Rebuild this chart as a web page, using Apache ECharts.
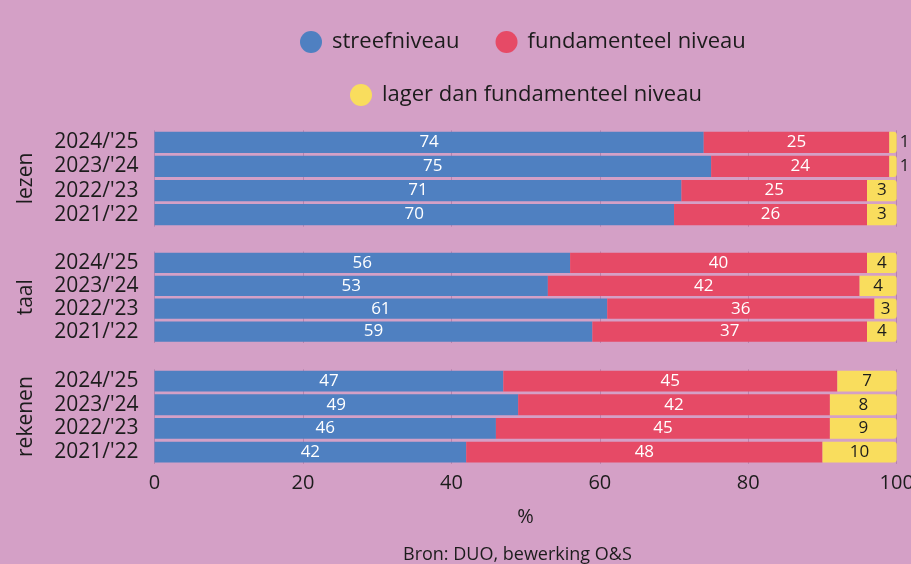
<!DOCTYPE html>
<html>
<head>
<meta charset="utf-8">
<script src="https://cdn.jsdelivr.net/npm/echarts@6/dist/echarts.min.js"></script>
<style>
  html, body { margin: 0; padding: 0; background: #d4a0c6; }
  #chart { width: 911px; height: 564px; }
</style>
</head>
<body>
<div id="chart"></div>
<script>
// jaren, van boven naar beneden
const years = ["2024/'25", "2023/'24", "2022/'23", "2021/'22"];
const subjects = ['lezen', 'taal', 'rekenen'];
const xTicks = [0, 20, 40, 60, 80, 100];

// streefniveau (%)
const streefLezen = [74, 75, 71, 70];
const streefTaal = [56, 53, 61, 59];
const streefRekenen = [47, 49, 46, 42];

// fundamenteel niveau (%)
const fundLezen = [25, 24, 25, 26];
const fundTaal = [40, 42, 36, 37];
const fundRekenen = [45, 42, 45, 48];

// lager dan fundamenteel: lengte van de balk zoals getekend
const lagerLezen = [1, 1, 4, 4];
const lagerTaal = [4, 5, 3, 4];
const lagerRekenen = [8, 9, 9, 10];

// lager dan fundamenteel: getoonde (afgeronde) labels
const lagerLabelLezen = [1, 1, 3, 3];
const lagerLabelTaal = [4, 4, 3, 4];
const lagerLabelRekenen = [7, 8, 9, 10];

const BLUE = '#4f80c1';
const RED = '#e64a66';
const YELLOW = '#f9dd5d';
const FONT = 'Open Sans';
const TEXT = '#1c1c1c';

const chart = echarts.init(document.getElementById('chart'));

const gridTops = [130.3, 251.5, 369.3];
const gridHeights = [96.4, 91.5, 94.6];

const groups = [
  { streef: streefLezen, fund: fundLezen, lager: lagerLezen, lagerLabel: lagerLabelLezen },
  { streef: streefTaal, fund: fundTaal, lager: lagerTaal, lagerLabel: lagerLabelTaal },
  { streef: streefRekenen, fund: fundRekenen, lager: lagerRekenen, lagerLabel: lagerLabelRekenen }
];

const grids = [], xAxes = [], yAxes = [], series = [];

groups.forEach((g, i) => {
  grids.push({
    left: 154.5, right: 14.3, top: gridTops[i], height: gridHeights[i],
    outerBoundsMode: 'none'
  });
  const last = i === groups.length - 1;
  xAxes.push({
    gridIndex: i,
    type: 'value',
    min: xTicks[0],
    max: xTicks[xTicks.length - 1],
    interval: 20,
    axisLine: { show: false },
    axisTick: { show: false },
    axisLabel: { show: last, color: TEXT, fontSize: 20, fontFamily: FONT, margin: 9 },
    splitLine: { show: true, lineStyle: { color: 'rgba(150,95,140,0.45)', width: 1 } },
    name: last ? '%' : '',
    nameLocation: 'middle',
    nameGap: 43,
    nameTextStyle: { color: TEXT, fontSize: 20, fontFamily: FONT }
  });
  yAxes.push({
    gridIndex: i,
    type: 'category',
    data: years,
    inverse: true,
    axisLine: { show: false },
    axisTick: { show: false },
    axisLabel: { interval: 0, color: TEXT, fontSize: 21, fontFamily: FONT, margin: 16 },
    name: subjects[i],
    nameLocation: 'middle',
    nameRotate: 90,
    nameGap: 118,
    nameTextStyle: { color: TEXT, fontSize: 21, fontFamily: FONT }
  });

  const whiteLabel = { show: true, position: 'inside', color: '#fff', fontSize: 17, fontFamily: FONT };
  series.push({
    name: 'streefniveau', type: 'bar', stack: 's' + i, xAxisIndex: i, yAxisIndex: i,
    barCategoryGap: '12%', itemStyle: { color: BLUE }, label: whiteLabel, data: g.streef
  });
  series.push({
    name: 'fundamenteel niveau', type: 'bar', stack: 's' + i, xAxisIndex: i, yAxisIndex: i,
    barCategoryGap: '12%', itemStyle: { color: RED }, label: whiteLabel, data: g.fund
  });
  series.push({
    name: 'lager dan fundamenteel niveau', type: 'bar', stack: 's' + i, xAxisIndex: i, yAxisIndex: i,
    barCategoryGap: '12%', itemStyle: { color: YELLOW, borderRadius: [0, 3, 3, 0] },
    label: {
      show: true, position: 'inside', color: TEXT, fontSize: 17, fontFamily: FONT,
      formatter: (p) => String(g.lagerLabel[p.dataIndex])
    },
    data: g.lager.map((v) => v <= 1
      ? { value: v, label: { position: 'right', distance: 3 } }
      : v)
  });
});

const legendCommon = {
  icon: 'circle',
  itemWidth: 22,
  itemHeight: 22,
  textStyle: { color: TEXT, fontSize: 22, fontFamily: FONT, padding: [0, 0, 0, 5] }
};

chart.setOption({
  animation: false,
  backgroundColor: '#d4a0c6',
  legend: [
    Object.assign({ data: ['streefniveau', 'fundamenteel niveau'], left: 295, top: 26, itemGap: 36 }, legendCommon),
    Object.assign({ data: ['lager dan fundamenteel niveau'], left: 345, top: 79 }, legendCommon)
  ],
  title: {
    text: 'Bron: DUO, bewerking O&S',
    left: 403,
    top: 546,
    padding: 0,
    textStyle: { color: TEXT, fontSize: 18, fontWeight: 'normal', fontFamily: FONT }
  },
  grid: grids,
  xAxis: xAxes,
  yAxis: yAxes,
  series: series
});
</script>
</body>
</html>
